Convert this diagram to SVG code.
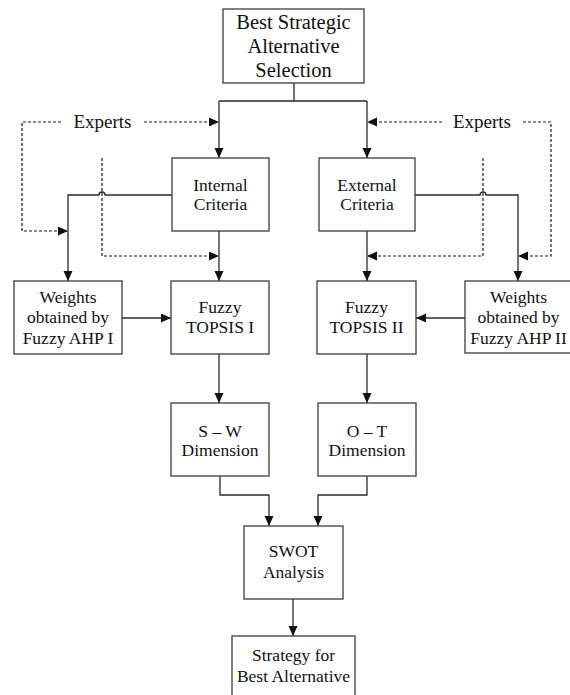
<svg xmlns="http://www.w3.org/2000/svg" width="570" height="695" viewBox="0 0 570 695">
<style>
.box{fill:#fff;stroke:#3c3c3c;stroke-width:1.3}
.t{font-family:"Liberation Serif","Times New Roman",serif;font-size:17.5px;fill:#111;text-anchor:middle}
.big{font-size:20.5px}
.exp{font-size:19px}
.ln{fill:none;stroke:#2a2a2a;stroke-width:1.3}
.ds{fill:none;stroke:#1a1a1a;stroke-width:1.2;stroke-dasharray:3,2}
</style>
<defs>
<marker id="ah" markerUnits="userSpaceOnUse" markerWidth="10" markerHeight="10" refX="10" refY="4.5" orient="auto">
<path d="M0,0 L10,4.5 L0,9 z" fill="#111"/>
</marker>
</defs>
<rect width="570" height="695" fill="#fff"/>
<g id="connectors">
<path class="ln" d="M294,83 V101 M219,101 H367"/>
<path class="ln" d="M219,101 V158" marker-end="url(#ah)"/>
<path class="ln" d="M367,101 V158" marker-end="url(#ah)"/>
<path class="ds" d="M144,122 H219" marker-end="url(#ah)"/>
<path class="ds" d="M61,122 H22 V231 H68" marker-end="url(#ah)"/>
<path class="ln" d="M172,195 H105 A3,3 0 0 0 99,195 H68 V281" marker-end="url(#ah)"/>
<path class="ds" d="M102,158 V256 H219" marker-end="url(#ah)"/>
<path class="ln" d="M219,231 V281" marker-end="url(#ah)"/>
<path class="ln" d="M122,318 H171" marker-end="url(#ah)"/>
<path class="ln" d="M219,354 V403" marker-end="url(#ah)"/>
<path class="ln" d="M367,231 V281" marker-end="url(#ah)"/>
<path class="ln" d="M415,195 H480 A3,3 0 0 1 486,195 H518 V281" marker-end="url(#ah)"/>
<path class="ds" d="M442,122 H367" marker-end="url(#ah)"/>
<path class="ds" d="M523,122 H551 V256 H518" marker-end="url(#ah)"/>
<path class="ds" d="M483,158 V256 H367" marker-end="url(#ah)"/>
<path class="ln" d="M465,318 H416" marker-end="url(#ah)"/>
<path class="ln" d="M367,354 V403" marker-end="url(#ah)"/>
<path class="ln" d="M220,476 V495 H269 V526" marker-end="url(#ah)"/>
<path class="ln" d="M367,476 V495 H318 V526" marker-end="url(#ah)"/>
<path class="ln" d="M293,599 V636" marker-end="url(#ah)"/>
</g>
<g id="experts-left"><text class="t exp" x="102.5" y="128">Experts</text></g>
<g id="experts-right"><text class="t exp" x="482" y="128">Experts</text></g>
<g id="top">
<rect class="box" x="223" y="9" width="141" height="74"/>
<text class="t big" x="293.5" y="29">Best Strategic</text>
<text class="t big" x="293.5" y="53">Alternative</text>
<text class="t big" x="293.5" y="77">Selection</text>
</g>
<g id="internal">
<rect class="box" x="172" y="158" width="97" height="73"/>
<text class="t" x="220.5" y="191">Internal</text>
<text class="t" x="220.5" y="210">Criteria</text>
</g>
<g id="external">
<rect class="box" x="319" y="158" width="96" height="73"/>
<text class="t" x="367" y="191">External</text>
<text class="t" x="367" y="210">Criteria</text>
</g>
<g id="weights1">
<rect class="box" x="14" y="281" width="108" height="73"/>
<text class="t" x="68" y="303">Weights</text>
<text class="t" x="68" y="323">obtained by</text>
<text class="t" x="68" y="344">Fuzzy AHP I</text>
</g>
<g id="topsis1">
<rect class="box" x="171" y="281" width="98" height="73"/>
<text class="t" x="220" y="313">Fuzzy</text>
<text class="t" x="220" y="333">TOPSIS I</text>
</g>
<g id="topsis2">
<rect class="box" x="317" y="281" width="99" height="73"/>
<text class="t" x="366.5" y="313">Fuzzy</text>
<text class="t" x="366.5" y="333">TOPSIS II</text>
</g>
<g id="weights2">
<rect class="box" x="465" y="281" width="112" height="72"/>
<text class="t" x="518.5" y="303">Weights</text>
<text class="t" x="518.5" y="323">obtained by</text>
<text class="t" x="518.5" y="344">Fuzzy AHP II</text>
</g>
<g id="sw">
<rect class="box" x="171" y="403" width="98" height="73"/>
<text class="t" x="220" y="437">S – W</text>
<text class="t" x="220" y="456">Dimension</text>
</g>
<g id="ot">
<rect class="box" x="318" y="403" width="98" height="73"/>
<text class="t" x="367" y="437">O – T</text>
<text class="t" x="367" y="456">Dimension</text>
</g>
<g id="swot">
<rect class="box" x="244" y="526" width="99" height="73"/>
<text class="t" x="293.5" y="557">SWOT</text>
<text class="t" x="293.5" y="578">Analysis</text>
</g>
<g id="strategy">
<rect class="box" x="232" y="636" width="123" height="70"/>
<text class="t" x="293.5" y="661">Strategy for</text>
<text class="t" x="293.5" y="682">Best Alternative</text>
</g>
</svg>
